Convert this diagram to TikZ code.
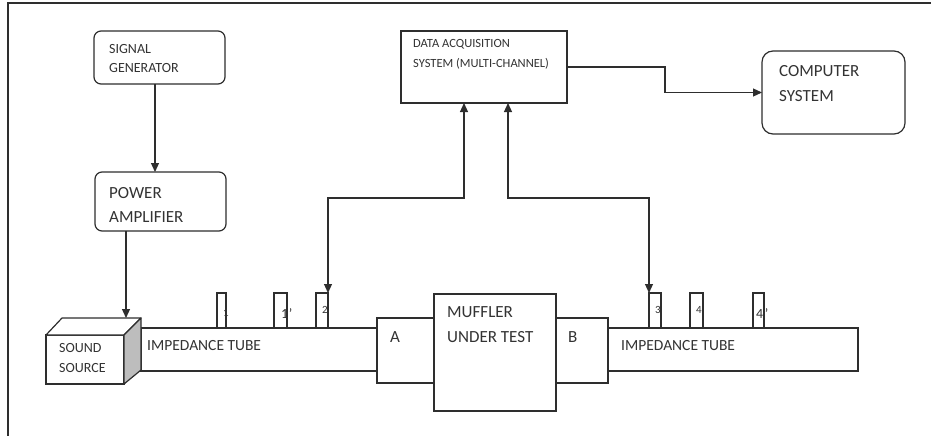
\documentclass[tikz,border=0pt]{standalone}
\usepackage{fontspec}
\setmainfont{Carlito}
\usetikzlibrary{arrows.meta}
\definecolor{ln}{HTML}{2E2E2E}
\definecolor{tx}{HTML}{333333}
\definecolor{sidegray}{HTML}{BDBDBD}
\tikzset{
  box/.style={draw=ln, line width=1.2pt, inner sep=0pt, outer sep=0pt, fill=white},
  rbox/.style={box, rounded corners=7pt},
  lbl/.style={anchor=base west, inner sep=0pt, text=tx},
  arr/.style={draw=ln, line width=1.2pt, -{Triangle[length=9pt,width=8pt]}},
  darr/.style={draw=ln, line width=1.2pt, {Triangle[length=9pt,width=8pt]}-{Triangle[length=9pt,width=8pt]}},
  sens/.style={box, minimum height=35pt}
}
\newcommand{\fs}[1]{\fontsize{#1}{#1}\selectfont}
\begin{document}
\begin{tikzpicture}[x=1pt,y=-1pt]
\useasboundingbox (0,0) rectangle (931,436);
% frame (top and left edges visible)
\draw[ln, line width=1.6pt] (8,436) -- (8,3) -- (931,3);

% boxes
\node[rbox, minimum width=131pt, minimum height=53pt] (sg) at (159.5,57.5) {};
\node[rbox, minimum width=131pt, minimum height=59pt] (pa) at (160.5,201.5) {};
\node[box, minimum width=166pt, minimum height=72pt] (daq) at (484,67) {};
\node[rbox, rounded corners=11pt, minimum width=143pt, minimum height=83pt] (comp) at (833.5,92.5) {};

% tubes
\node[box, minimum width=236pt, minimum height=43pt] (tubeL) at (259,349.5) {};
\node[box, minimum width=250pt, minimum height=43pt] (tubeR) at (733,349.5) {};
\node[box, minimum width=57pt, minimum height=65pt] (A) at (405.5,350.5) {};
\node[box, minimum width=52pt, minimum height=65pt] (B) at (582,350.5) {};
\node[box, minimum width=122pt, minimum height=117pt] (muf) at (495,352.5) {};

% sensors
\node[sens, minimum width=9pt] (s1) at (221.5,310.5) {};
\node[sens, minimum width=13pt] (s1p) at (280.5,310.5) {};
\node[sens, minimum width=12pt] (s2) at (322,310.5) {};
\node[sens, minimum width=12pt] (s3) at (655,310.5) {};
\node[sens, minimum width=13pt] (s4) at (696.5,310.5) {};
\node[sens, minimum width=11pt] (s4p) at (758.5,310.5) {};

% sound source (3D box)
\node[box, minimum width=78pt, minimum height=49pt] (src) at (85,359.5) {};
\draw[ln, line width=1.2pt, fill=white, line join=round] (src.north west) -- ++(16,-17) -- ++(79,0) -- (src.north east) -- cycle;
\draw[ln, line width=1.2pt, fill=sidegray, line join=round] (src.north east) -- ++(17,-17) -- ++(0,52) -- (src.south east) -- cycle;
\coordinate (srctop) at (126,318);

% texts
\node[lbl, font=\fs{14}] (t1) at (109,54) {SIGNAL};
\node[lbl, font=\fs{14}] (t2) at (109,73) {GENERATOR};
\node[lbl, font=\fs{17}] (t3) at (109,198) {POWER};
\node[lbl, font=\fs{17}] (t4) at (109,222) {AMPLIFIER};
\node[lbl, font=\fs{12.5}] (t5) at (413,48) {DATA ACQUISITION};
\node[lbl, font=\fs{12.5}] (t6) at (413,67) {SYSTEM (MULTI-CHANNEL)};
\node[lbl, font=\fs{17}] (t7) at (779,77) {COMPUTER};
\node[lbl, font=\fs{17}] (t8) at (779,101) {SYSTEM};
\node[lbl, font=\fs{14}] (t9) at (59,352) {SOUND};
\node[lbl, font=\fs{14}] (t10) at (59,372) {SOURCE};
\node[lbl, font=\fs{15.5}] (t11) at (147,350) {IMPEDANCE TUBE};
\node[lbl, font=\fs{15.5}] (t12) at (621,350) {IMPEDANCE TUBE};
\node[lbl, font=\fs{17}] (t13) at (390,342) {A};
\node[lbl, font=\fs{17}] (t14) at (447,317) {MUFFLER};
\node[lbl, font=\fs{17}] (t15) at (447,342) {UNDER TEST};
\node[lbl, font=\fs{17}] (t16) at (568,342) {B};
\node[lbl, font=\fs{11}] (l1) at (223,316) {1};
\node[lbl, font=\fs{14}] (l1p) at (281,318) {1\kern0.5pt'};
\node[lbl, font=\fs{11}] (l2) at (322,313) {2};
\node[lbl, font=\fs{11}] (l3) at (655,313) {3};
\node[lbl, font=\fs{11}] (l4) at (696,313) {4};
\node[lbl, font=\fs{14}] (l4p) at (756,318) {4\kern1.5pt'};

% connectors
\coordinate (mid) at (0,198);
\coordinate (jx) at (665,0);
\draw[arr] ([xshift=-4.5pt]sg.south) -- ([xshift=-4.5pt]sg.south |- pa.north);
\draw[arr] (pa.south -| srctop) -- (srctop);
\draw[darr] ([xshift=-20pt]daq.south) -- ([xshift=-20pt]daq.south |- mid) -| (s2.north east);
\draw[darr] ([xshift=24pt]daq.south) -- ([xshift=24pt]daq.south |- mid) -| (s3.north west);
\draw[arr] (daq.east) -- (daq.east -| jx) |- (comp.west);
\end{tikzpicture}
\end{document}
